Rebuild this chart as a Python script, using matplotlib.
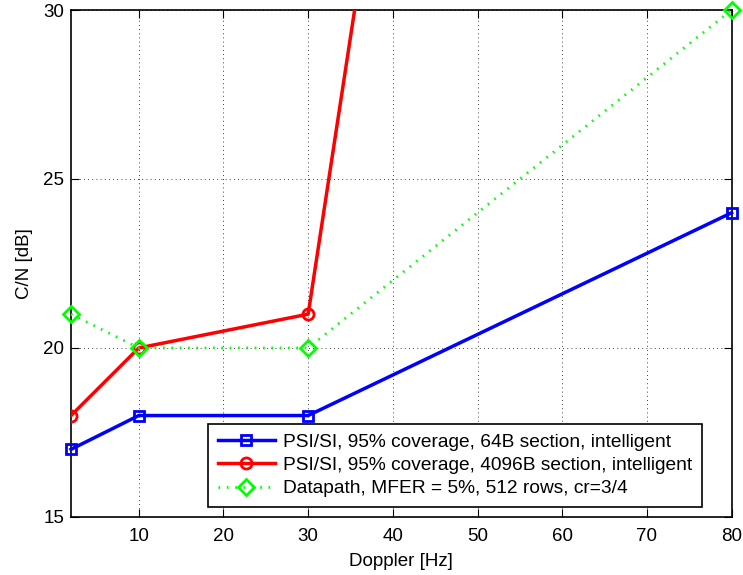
import numpy as np
import matplotlib.pyplot as plt

plt.rcParams['font.family'] = ['Liberation Sans', 'DejaVu Sans']

doppler = np.array([2, 10, 30, 80])
cn_64b = np.array([17, 18, 18, 24])
doppler_4096 = np.array([2, 10, 30, 40])
cn_4096b = np.array([18, 20, 21, 37.4])
cn_datapath = np.array([21, 20, 20, 30])

labels = ['PSI/SI, 95% coverage, 64B section, intelligent',
          'PSI/SI, 95% coverage, 4096B section, intelligent',
          'Datapath, MFER = 5%, 512 rows, cr=3/4']

fig = plt.figure(figsize=(7.43, 5.75), dpi=100)
ax = fig.add_axes([0.0956, 0.101, 0.889, 0.8816])

ax.plot(doppler, cn_64b, '-s', color=(0, 0, 1), lw=2.5, ms=7, mfc='none', mew=2,
        label=labels[0], clip_on=False, zorder=3)
ax.plot(doppler_4096, cn_4096b, '-o', color=(1, 0, 0), lw=2.5, ms=8, mfc='none', mew=2,
        label=labels[1], zorder=3)
ax.plot(doppler, cn_datapath, linestyle=(0, (0.6, 2.4)), marker='D', color=(0, 1, 0),
        lw=2, ms=8.5, mfc='none', mew=2, label=labels[2], clip_on=False, zorder=3)

ax.set_xlim(2, 80)
ax.set_ylim(15, 30)
ax.set_xticks([10, 20, 30, 40, 50, 60, 70, 80])
ax.set_yticks([15, 20, 25, 30])
ax.grid(True, color='k', linestyle=(0, (1, 4)), linewidth=0.6)
ax.tick_params(direction='in', labelsize=13.5, length=6, top=True, right=True, pad=5)
ax.tick_params(axis='x', pad=8)
for s in ax.spines.values():
    s.set_linewidth(1.2)
ax.set_xlabel('Doppler [Hz]', fontsize=13.5, labelpad=6)
ax.set_ylabel('C/N [dB]', fontsize=13.5, labelpad=7)

leg = ax.legend(loc='lower right', bbox_to_anchor=(0.9546, 0.0197), fontsize=13.8,
                frameon=True, fancybox=False, edgecolor='k', framealpha=1,
                borderpad=0.5, labelspacing=0.3, handlelength=3.0,
                handletextpad=0.4, borderaxespad=0)
leg.get_frame().set_linewidth(1.2)

fig.savefig('out.png', dpi=100)
